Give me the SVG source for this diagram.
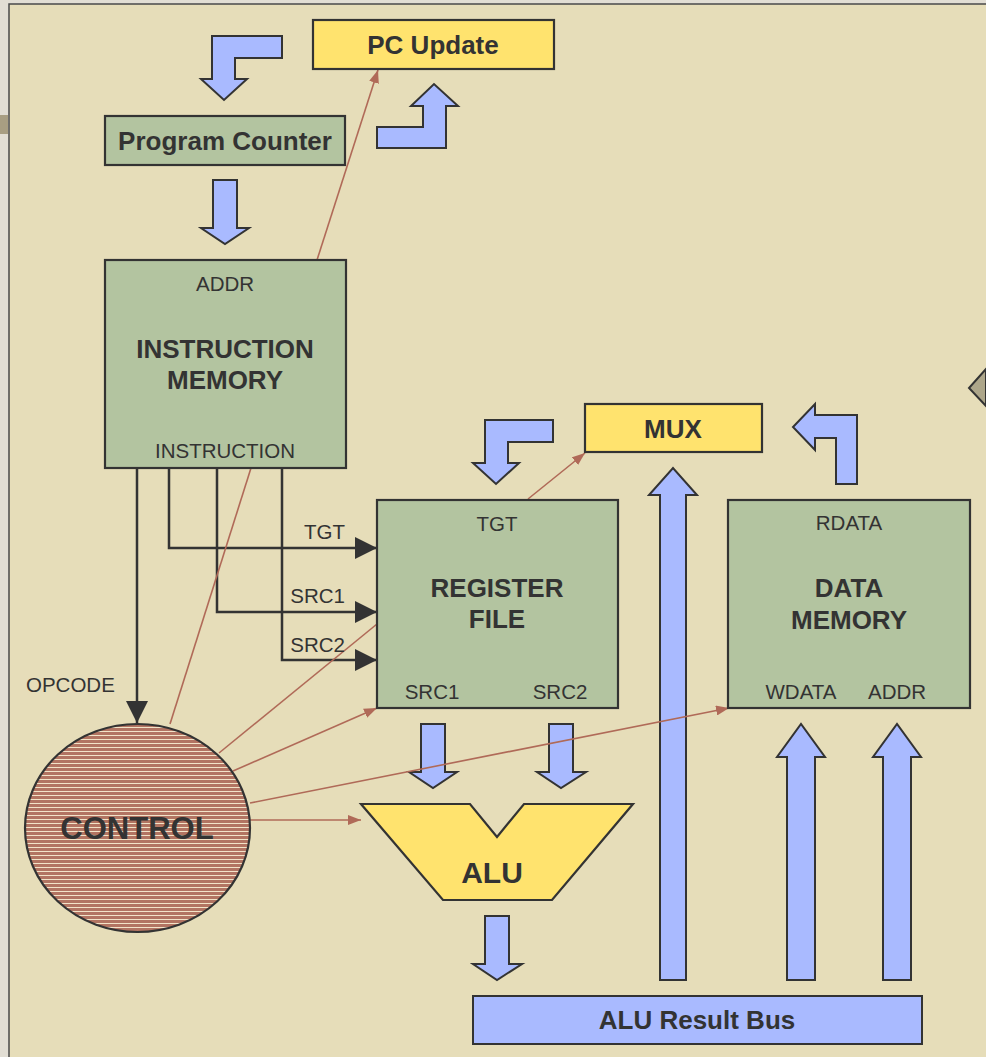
<svg xmlns="http://www.w3.org/2000/svg" width="986" height="1057" viewBox="0 0 986 1057">
<style>
.box{fill:#B3C4A0;stroke:#333;stroke-width:2.2}
.ybox{fill:#FFE36E;stroke:#333;stroke-width:2.2}
.blk{fill:#A9BAFF;stroke:#333;stroke-width:2}
.b{font-family:"Liberation Sans",Arial,sans-serif;font-weight:bold;font-size:26px;fill:#333;text-anchor:middle}
.r{font-family:"Liberation Sans",Arial,sans-serif;font-size:20.5px;fill:#333;text-anchor:middle}
.wire{fill:none;stroke:#333;stroke-width:2.5}
.ctl{fill:none;stroke:#B06A58;stroke-width:1.6}
</style>
<defs>
<marker id="ah" viewBox="0 0 22 22" refX="22" refY="11" markerWidth="22" markerHeight="22" markerUnits="userSpaceOnUse" orient="auto"><path d="M0,0 L22,11 L0,22 Z" fill="#333"/></marker>
<marker id="bh" viewBox="0 0 13 10" refX="13" refY="5" markerWidth="13" markerHeight="10" markerUnits="userSpaceOnUse" orient="auto"><path d="M0,0 L13,5 L0,10 Z" fill="#B06A58"/></marker>
<pattern id="stripes" width="8" height="4" patternUnits="userSpaceOnUse"><rect width="8" height="4" fill="#B27462"/><rect y="3" width="8" height="1" fill="#F2E3C8"/></pattern>
</defs>
<rect width="986" height="1057" fill="#E2DED4"/>
<rect x="9" y="4" width="990" height="1070" fill="#E6DDB9" stroke="#4a4a4a" stroke-width="1.5"/>
<rect x="0" y="115" width="8" height="19" fill="#A89E82"/>
<path d="M986,369 L969,388 L986,406 Z" fill="#ADA68A" stroke="#333" stroke-width="2"/>

<g id="connectors">
<path class="blk" d="M282,36 L212,36 L212,79 L201,79 L224,100 L247,79 L235,79 L235,58 L282,58 Z"/>
<path class="blk" d="M213,180 L237,180 L237,228 L249,228 L225,244 L201,228 L213,228 Z"/>
<path class="blk" d="M377,127 L423,127 L423,106 L411,106 L434,84 L458,106 L446,106 L446,148 L377,148 Z"/>
<path class="blk" d="M553,420 L485,420 L485,463 L473,463 L496,484 L519,463 L508,463 L508,442 L553,442 Z"/>
<path class="blk" d="M857,484 L836,484 L836,438 L815,438 L815,450 L793,427 L815,404 L815,415 L857,415 Z"/>
<path class="blk" d="M660,980 L660,495 L649,495 L673,468 L697,495 L686,495 L686,980 Z"/>
<path class="blk" d="M787,980 L787,757 L777,757 L801,724 L825,757 L815,757 L815,980 Z"/>
<path class="blk" d="M883,980 L883,757 L873,757 L897,724 L921,757 L911,757 L911,980 Z"/>
<path class="blk" d="M421,724 L445,724 L445,772 L457,772 L433,788 L409,772 L421,772 Z"/>
<path class="blk" d="M549,724 L573,724 L573,772 L586,772 L561,788 L537,772 L549,772 Z"/>
<path class="blk" d="M485,916 L509,916 L509,964 L522,964 L497,980 L473,964 L485,964 Z"/>

<path class="wire" d="M137,468 L137,723" marker-end="url(#ah)"/>
<path class="wire" d="M169,468 L169,548 L377,548" marker-end="url(#ah)"/>
<path class="wire" d="M217,468 L217,612 L377,612" marker-end="url(#ah)"/>
<path class="wire" d="M282,468 L282,660 L377,660" marker-end="url(#ah)"/>

<path class="ctl" d="M317,260 L378,70" marker-end="url(#bh)"/>
<path class="ctl" d="M170,724 L251,468"/>
<path class="ctl" d="M219,753 L377,624"/>
<path class="ctl" d="M233,771 L377,708" marker-end="url(#bh)"/>
<path class="ctl" d="M250,803 L729,708" marker-end="url(#bh)"/>
<path class="ctl" d="M250,820 L361,820" marker-end="url(#bh)"/>
<path class="ctl" d="M528,499 L585,453" marker-end="url(#bh)"/>
</g>

<g id="pc-update">
<rect class="ybox" x="313" y="20" width="241" height="49"/>
<text class="b" x="433" y="54">PC Update</text>
</g>
<g id="program-counter">
<rect class="box" x="105" y="116" width="240" height="49"/>
<text class="b" x="225" y="150">Program Counter</text>
</g>
<g id="instruction-memory">
<rect class="box" x="105" y="260" width="241" height="208"/>
<text class="r" x="225" y="291">ADDR</text>
<text class="b" x="225" y="358">INSTRUCTION</text>
<text class="b" x="225" y="389">MEMORY</text>
<text class="r" x="225" y="458">INSTRUCTION</text>
</g>
<g id="labels">
<text class="r" x="345" y="539" style="text-anchor:end">TGT</text>
<text class="r" x="345" y="603" style="text-anchor:end">SRC1</text>
<text class="r" x="345" y="652" style="text-anchor:end">SRC2</text>
<text class="r" x="26" y="692" style="text-anchor:start">OPCODE</text>
</g>
<g id="mux">
<rect class="ybox" x="585" y="404" width="177" height="48"/>
<text class="b" x="673" y="438">MUX</text>
</g>
<g id="register-file">
<rect class="box" x="377" y="500" width="241" height="208"/>
<text class="r" x="497" y="531">TGT</text>
<text class="b" x="497" y="597">REGISTER</text>
<text class="b" x="497" y="628">FILE</text>
<text class="r" x="432" y="699">SRC1</text>
<text class="r" x="560" y="699">SRC2</text>
</g>
<g id="data-memory">
<rect class="box" x="728" y="500" width="242" height="208"/>
<text class="r" x="849" y="530">RDATA</text>
<text class="b" x="849" y="597">DATA</text>
<text class="b" x="849" y="629">MEMORY</text>
<text class="r" x="801" y="699">WDATA</text>
<text class="r" x="897" y="699">ADDR</text>
</g>
<g id="control">
<ellipse cx="137.5" cy="828" rx="112.5" ry="104" fill="url(#stripes)" stroke="#333" stroke-width="2.2"/>
<text class="b" x="137" y="839" style="font-size:31px">CONTROL</text>
</g>
<g id="alu">
<path d="M361,804 L470,804 L497,837 L524,804 L633,804 L552,900 L443,900 Z" fill="#FFE36E" stroke="#333" stroke-width="2.2"/>
<text class="b" x="492" y="883" style="font-size:30px">ALU</text>
</g>
<g id="alu-result-bus">
<rect class="blk" x="473" y="996" width="449" height="48"/>
<text class="b" x="697" y="1029">ALU Result Bus</text>
</g>
</svg>
